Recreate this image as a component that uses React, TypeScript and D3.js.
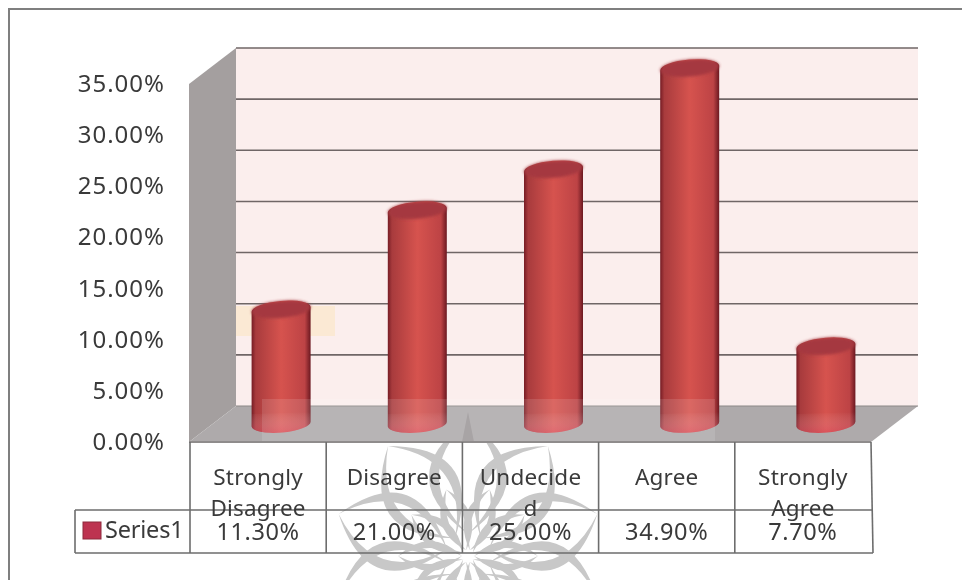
import React from "react";
import * as d3 from "d3";

const categories = ["Strongly Disagree", "Disagree", "Undecided", "Agree", "Strongly Agree"];
const categoryLines = [["Strongly", "Disagree"], ["Disagree"], ["Undecide", "d"], ["Agree"], ["Strongly", "Agree"]];
const seriesValues = [11.3, 21.0, 25.0, 34.9, 7.7];
const valueLabels = ["11.30%", "21.00%", "25.00%", "34.90%", "7.70%"];
const yTicks = [0, 5, 10, 15, 20, 25, 30, 35];
const seriesName = "Series1";
const webAngles = [-144, -108, -72, -36, 0, 36, 72, 108, 144, 180];
const ringAngles = [-126, -90, -54, -18, 18, 54, 90, 126, 162, 198];

const W = 962, H = 580;
const depthX = 47, depthY = 36;
const frontLeft = 189, frontRight = 871, frontBottom = 442, frontTop = 84;

const x = d3.scaleBand<string>().domain(categories).range([frontLeft + 1, frontRight]);
const yFront = d3.scaleLinear().domain([0, 35]).range([frontBottom, frontTop]);
// Columns stand halfway between the front edge and the back wall of the floor.
const barBase = 424;
const yBar = d3.scaleLinear().domain([0, 35]).range([barBase, barBase - (frontBottom - frontTop)]);

const pts = (p: number[][]) => d3.line()(p as [number, number][]) + "Z";

function Cylinder({ cat, value }: { cat: string; value: number }) {
  const cx = x(cat)! + x.bandwidth() / 2 + 23;
  const rx = 29.5, ry = 8.5;
  const top = yBar(value) + 1, bottom = barBase;
  const lean = 2.5;
  const body = `M${cx - rx},${top + lean} A${rx},${ry} -5 0 1 ${cx + rx},${top - lean}
    L${cx + rx},${bottom - lean} A${rx},${ry} -5 0 1 ${cx - rx},${bottom + lean} Z`;
  const cap = `M${cx - rx},${top + lean} A${rx},${ry} -5 0 1 ${cx + rx},${top - lean}
    A${rx},${ry} -5 0 1 ${cx - rx},${top + lean} Z`;
  const foot = `M${cx - rx},${bottom - 10} L${cx + rx},${bottom - 12} L${cx + rx},${bottom - lean}
    A${rx},${ry} -5 0 1 ${cx - rx},${bottom + lean} Z`;
  return (
    <g>
      <path d={body} fill="url(#cylBody)" />
      <path d={foot} fill="url(#cylFoot)" />
      <path d={cap} fill="#a5383f" filter="url(#soft)" />
    </g>
  );
}

function Watermark() {
  // Pale web-like ornament behind the data table: tapered crescents around one hub.
  const hx = 468, hy = 556;
  const crescent = (r0: number, r1: number, bow: number, t: number) => {
    const m = -(r0 + r1) / 2;
    return `M0,${-r0} Q${bow},${m} 0,${-r1} Q${bow - t},${m} 0,${-r0}Z`;
  };
  return (
    <g fill="#c8c8c8">
      {webAngles.map((a) => (
        <g key={a} transform={`translate(${hx},${hy}) rotate(${a})`}>
          <path d={crescent(22, 136, 78, 20)} />
          <path d={crescent(22, 136, -78, -20)} />
        </g>
      ))}
      {ringAngles.map((a) => (
        <g key={a} transform={`translate(${hx},${hy}) rotate(${a})`}>
          <path d={crescent(6, 70, 30, 14)} />
          <path d={crescent(6, 70, -30, -14)} />
        </g>
      ))}
    </g>
  );
}

export default function App() {
  const colEdges = categories.map((c) => x(c)!).concat(frontRight);
  const tableTop = frontBottom, tableMid = 510, tableBottom = 553, legendLeft = 75;
  const font = "'Noto Sans', sans-serif";
  const textFill = "#3a3a3a";
  return (
    <svg width={W} height={H} viewBox={`0 0 ${W} ${H}`}
      style={{ position: "absolute", left: 0, top: 0, background: "#fff", filter: "blur(0.6px)" }}>
      <defs>
        <linearGradient id="cylBody" x1="0" x2="1" y1="0" y2="0">
          <stop offset="0" stopColor="#761c24" />
          <stop offset="0.07" stopColor="#a83b3d" />
          <stop offset="0.5" stopColor="#d6534e" />
          <stop offset="0.9" stopColor="#bd4345" />
          <stop offset="1" stopColor="#6b1820" />
        </linearGradient>
        <linearGradient id="cylFoot" x1="0" x2="0" y1="0" y2="1">
          <stop offset="0" stopColor="#ffffff" stopOpacity={0} />
          <stop offset="1" stopColor="#e8506f" stopOpacity={0.35} />
        </linearGradient>
        <filter id="soft" x="-10%" y="-30%" width="120%" height="170%">
          <feGaussianBlur stdDeviation="1.4" />
        </filter>
      </defs>

      <rect x={9} y={9} width={W} height={H} fill="#fff" stroke="#7f7f7f" strokeWidth={2} />
      <Watermark />

      {/* Back wall, side wall and floor of the 3-D plot box */}
      <rect x={frontLeft + depthX} y={frontTop - depthY} width={frontRight - frontLeft} height={frontBottom - frontTop}
        fill="#fbeeed" />
      <path d={pts([[frontLeft, frontTop], [frontLeft + depthX, frontTop - depthY], [frontLeft + depthX, frontBottom - depthY], [frontLeft, frontBottom]])}
        fill="#a49f9f" />
      <path d={pts([[frontLeft, frontBottom], [frontLeft + depthX, frontBottom - depthY], [frontRight + depthX, frontBottom - depthY], [frontRight, frontBottom]])}
        fill="#aeaaab" />
      <path d="M462,442 L468,412 L474,442Z" fill="#8f8c8e" opacity={0.6} />
      <rect x={236} y={306} width={99} height={30} fill="#fbe6bf" opacity={0.55} />

      {yTicks.slice(1).map((t) => (
        <line key={t} x1={frontLeft + depthX} x2={frontRight + depthX}
          y1={yFront(t) - depthY} y2={yFront(t) - depthY} stroke="#6f6666" strokeWidth={1.6} />
      ))}
      <line x1={frontLeft + depthX} x2={frontRight + depthX} y1={frontBottom - depthY} y2={frontBottom - depthY}
        stroke="#8b8788" strokeWidth={1.2} />

      {categories.map((c, i) => <Cylinder key={c} cat={c} value={seriesValues[i]} />)}

      {/* Lighter band printed across the foot of the columns */}
      <rect x={262} y={399} width={453} height={43} fill="#fff" opacity={0.12} />
      <line x1={frontLeft} x2={frontRight} y1={frontBottom} y2={frontBottom} stroke="#8f8c8c" strokeWidth={2} />

      {yTicks.map((t) => (
        <text key={t} x={165} y={yFront(t) + 8} textAnchor="end" fontFamily={font} fontSize={24}
          letterSpacing={1} fill={textFill}>{t.toFixed(2)}%</text>
      ))}

      {/* Data table */}
      <g stroke="#6d6d6d" strokeWidth={1.6} fill="none">
        <line x1={legendLeft} x2={frontRight + 2} y1={tableMid} y2={tableMid} />
        <line x1={legendLeft} x2={frontRight + 2} y1={tableBottom} y2={tableBottom} />
        <line x1={legendLeft} x2={legendLeft} y1={tableMid} y2={tableBottom} />
        {colEdges.map((e, i) => (
          <line key={i} x1={e} x2={e + (i === 5 ? 2 : 0)} y1={tableTop} y2={tableBottom} />
        ))}
      </g>
      {categories.map((c, i) => {
        const cx = x(c)! + x.bandwidth() / 2;
        return (
          <g key={c} fontFamily={font} fontSize={22.5} letterSpacing={0.2} fill={textFill} textAnchor="middle">
            {categoryLines[i].map((ln, j) => (
              <text key={j} x={cx} y={485 + j * 31}>{ln}</text>
            ))}
            <text x={cx} y={540} fontSize={23.5} letterSpacing={0.6}>{valueLabels[i]}</text>
          </g>
        );
      })}
      <rect x={83} y={522} width={18} height={17} fill="#bd3350" stroke="#8d2a3c" />
      <text x={105} y={538} fontFamily={font} fontSize={23.5} letterSpacing={-0.2} fill={textFill}>{seriesName}</text>
    </svg>
  );
}
